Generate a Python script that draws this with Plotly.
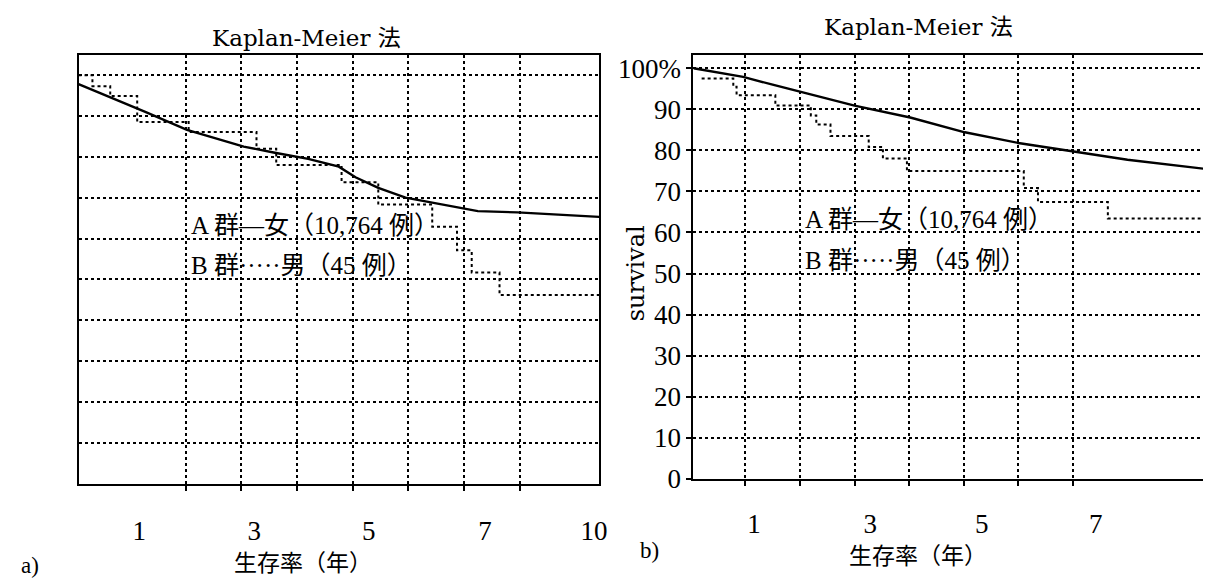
import plotly.graph_objects as go

# ---------------- data ----------------
# x values are in grid units of each panel (one unit = one vertical gridline step)
# panel a
a_female_x = [0.07, 0.5, 1.27, 2.02, 3.04, 3.6, 4.2, 4.75, 5.05, 5.46, 5.95, 6.43, 7.25, 7.96, 8.8, 9.43]
a_female_y = [97.8, 95.4, 91.0, 86.6, 82.5, 81.0, 79.5, 77.6, 75.0, 72.4, 70.0, 68.8, 66.7, 66.4, 65.7, 65.3]
a_male_x = [0.07, 0.32, 0.64, 1.125, 2.05, 3.27, 3.625, 4.8, 5.46, 6.43, 6.875, 7.14, 7.64, 9.43]
a_male_y = [100, 97.3, 94.9, 88.5, 86.1, 82.0, 78.0, 73.8, 68.3, 62.9, 57.1, 51.7, 46.2, 46.2]
a_grid_x = [2, 3, 4, 5, 6, 7, 8]
a_tick_pos = [1.16, 3.23, 5.29, 7.38, 9.34]
a_tick_text = ["1", "3", "5", "7", "10"]

# panel b
b_female_x = [0.05, 0.47, 0.96, 1.5, 2.0, 3.0, 4.02, 5.02, 6.0, 7.0, 8.0, 9.42]
b_female_y = [100, 99.0, 97.9, 96.0, 94.3, 90.9, 88.0, 84.4, 81.8, 79.7, 77.7, 75.5]
b_male_x = [0.2, 0.78, 0.84, 1.55, 2.2, 2.3, 2.56, 3.26, 3.52, 3.96, 6.1, 6.36, 7.64, 9.42]
b_male_y = [97.5, 95.5, 93.4, 90.9, 88.5, 86.3, 83.5, 80.8, 78.0, 75.0, 70.8, 67.4, 63.4, 63.4]
b_grid_x = [1, 2, 3, 4, 5, 6, 7]
b_tick_pos = [1.16, 3.29, 5.33, 7.42]
b_tick_text = ["1", "3", "5", "7"]

y_grid = [0, 10, 20, 30, 40, 50, 60, 70, 80, 90, 100]
b_y_text = ["0", "10", "20", "30", "40", "50", "60", "70", "80", "90", "100%"]

label_a = "A 群—女（10,764 例）"
label_b = "B 群·····男（45 例）"
title_text = "Kaplan-Meier 法"
x_title = "生存率（年）"

SERIF = "Liberation Serif, Noto Sans CJK JP, serif"
SERIF2 = "DejaVu Serif, Noto Sans CJK JP, serif"
CJK = "Noto Sans CJK JP, sans-serif"

fig = go.Figure()
fig.add_trace(go.Scatter(x=a_female_x, y=a_female_y, mode="lines", xaxis="x", yaxis="y",
                         line=dict(color="black", width=2.4), showlegend=False))
fig.add_trace(go.Scatter(x=a_male_x, y=a_male_y, mode="lines", xaxis="x", yaxis="y",
                         line=dict(color="black", width=2, dash="dot", shape="hv"), showlegend=False))
fig.add_trace(go.Scatter(x=b_female_x, y=b_female_y, mode="lines", xaxis="x2", yaxis="y2",
                         line=dict(color="black", width=2.4), showlegend=False))
fig.add_trace(go.Scatter(x=b_male_x, y=b_male_y, mode="lines", xaxis="x2", yaxis="y2",
                         line=dict(color="black", width=2, dash="dot", shape="hv"), showlegend=False))

grid_common = dict(showline=True, mirror=True, linecolor="black", linewidth=2,
                   zeroline=False, fixedrange=True)

fig.update_layout(
    width=1211, height=583,
    margin=dict(l=0, r=0, t=0, b=0),
    paper_bgcolor="white", plot_bgcolor="white",
    font=dict(family=SERIF, color="black", size=20),
    xaxis=dict(domain=[71/1211, 595/1211], range=[0.07, 9.43], **grid_common,
               tickmode="array", tickvals=a_tick_pos, ticktext=a_tick_text,
               showgrid=False, ticks="", ticklabelstandoff=22,
               tickfont=dict(family=SERIF, size=27),
               minor=dict(tickmode="array", tickvals=a_grid_x, showgrid=True, gridcolor="black",
                          gridwidth=1.6, griddash="dot", ticks="outside", ticklen=5,
                          tickcolor="black", tickwidth=1.5),
               anchor="y"),
    yaxis=dict(domain=[95/583, 536/583], range=[0, 105], **grid_common,
               tickmode="array", tickvals=y_grid, showticklabels=False, ticks="",
               showgrid=True, gridcolor="black", gridwidth=1.6, griddash="dot",
               anchor="x"),
    xaxis2=dict(domain=[690/1211, 1205/1211], range=[0.05, 9.42], **grid_common,
                tickmode="array", tickvals=b_tick_pos, ticktext=b_tick_text,
                showgrid=False, ticks="", ticklabelstandoff=20,
                tickfont=dict(family=SERIF, size=27),
                minor=dict(tickmode="array", tickvals=b_grid_x, showgrid=True, gridcolor="black",
                           gridwidth=1.6, griddash="dot", ticks="outside", ticklen=5,
                           tickcolor="black", tickwidth=1.5),
                anchor="y2"),
    yaxis2=dict(domain=[100/583, 536/583], range=[0, 103.3], **grid_common,
                tickmode="array", tickvals=y_grid, ticktext=b_y_text,
                ticks="outside", ticklen=5, tickcolor="black", tickwidth=1.5,
                tickfont=dict(family=SERIF, size=27),
                showgrid=True, gridcolor="black", gridwidth=1.6, griddash="dot",
                anchor="x2"),
)

ann = []
# in-plot labels
for xr, yr in (("x", "y"), ("x2", "y2")):
    ann.append(dict(x=2.05, y=59.5, xref=xr, yref=yr, text=label_a, showarrow=False,
                    xanchor="left", yanchor="bottom", font=dict(family=SERIF, size=25)))
    ann.append(dict(x=2.05, y=49.5, xref=xr, yref=yr, text=label_b, showarrow=False,
                    xanchor="left", yanchor="bottom", font=dict(family=SERIF, size=25)))
# titles
ann.append(dict(x=300/1211, y=1 - 30/583, xref="paper", yref="paper", text=title_text,
                showarrow=False, xanchor="center", yanchor="middle", font=dict(family=SERIF2, size=23)))
ann.append(dict(x=917/1211, y=1 - 18/583, xref="paper", yref="paper", text=title_text,
                showarrow=False, xanchor="center", yanchor="middle", font=dict(family=SERIF2, size=23)))
# x titles
ann.append(dict(x=297/1211, y=1 - 568/583, xref="paper", yref="paper", text=x_title,
                showarrow=False, xanchor="center", yanchor="middle", font=dict(family=CJK, size=23)))
ann.append(dict(x=916/1211, y=1 - 560/583, xref="paper", yref="paper", text=x_title,
                showarrow=False, xanchor="center", yanchor="middle", font=dict(family=CJK, size=23)))
# y title panel b
ann.append(dict(x=632/1211, y=1 - 272/583, xref="paper", yref="paper", text="survival",
                showarrow=False, textangle=-90, xanchor="center", yanchor="middle",
                font=dict(family=SERIF2, size=24)))
# panel letters
ann.append(dict(x=22/1211, y=1 - 572/583, xref="paper", yref="paper", text="a)",
                showarrow=False, xanchor="center", yanchor="middle", font=dict(family=SERIF, size=23)))
ann.append(dict(x=646/1211, y=1 - 557/583, xref="paper", yref="paper", text="b)",
                showarrow=False, xanchor="center", yanchor="middle", font=dict(family=SERIF, size=23)))
fig.update_layout(annotations=ann)

fig.write_html("out.html")
